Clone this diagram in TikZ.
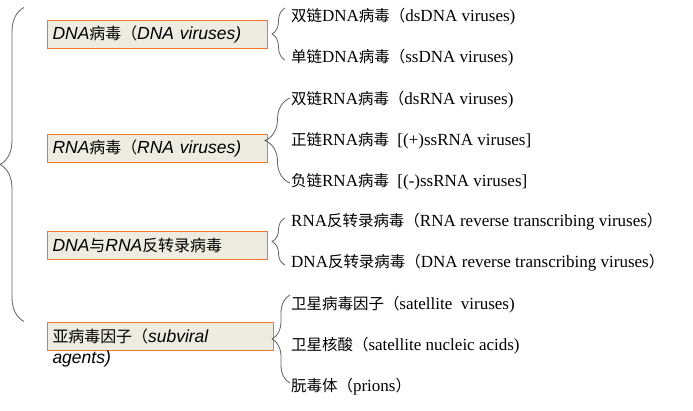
\documentclass[tikz,border=0pt]{standalone}
\usepackage{fontspec}
\setmainfont{Liberation Serif}
\setsansfont{Liberation Sans}
\newfontfamily\cjk{Noto Sans CJK SC}[Scale=0.91]
\newcommand{\zh}[1]{{\cjk\upshape #1}}
\usetikzlibrary{positioning,decorations.pathreplacing}
\definecolor{boxline}{HTML}{F07828}
\definecolor{boxfill}{HTML}{EEECE1}
\definecolor{braceline}{HTML}{606060}

\begin{document}
\begin{tikzpicture}[x=1pt, y=-1pt, node distance = 41pt]
	\tikzset{BoxStyle/.style = {
			shape=rectangle,
			draw=boxline, fill=boxfill, line width=1pt,
			minimum height=28pt, inner xsep=5pt, inner ysep=0pt,
			text width=210pt, align=left, anchor=west,
			font=\fontsize{17.5}{20}\selectfont\sffamily\itshape
	}}
	\tikzset{LeafStyle/.style = {
			inner sep=0pt, anchor=west,
			font=\fontsize{17}{19}\selectfont
	}}
	\tikzset{BraceStyle/.style = {
			draw=braceline, line width=0.8pt,
			decorate, decoration={brace, amplitude=#1}
	}}
	\useasboundingbox (0,0) rectangle (693,410);

	% groups
	\node[BoxStyle] (1) at (47,34) {DNA\zh{病毒（}DNA viruses)};
	\node[BoxStyle] (2) at (47,148) {RNA\zh{病毒（}RNA viruses)};
	\node[BoxStyle] (3) at (47,245) {DNA\zh{与}RNA\zh{反转录病毒}};
	\node[BoxStyle, text width=216pt] (4) at (47,336) {\zh{亚病毒因子（}subviral};
	\node[BoxStyle, draw=none, fill=none, anchor=north west, minimum height=0pt] (4b) at (4.south west) {agents)};

	% members
	\node[LeafStyle] (11) at (291,17) {\zh{双链}DNA\zh{病毒（}dsDNA viruses)};
	\node[LeafStyle, below=of 11.west, anchor=west] (12) {\zh{单链}DNA\zh{病毒（}ssDNA viruses)};

	\node[LeafStyle] (21) at (291,100) {\zh{双链}RNA\zh{病毒（}dsRNA viruses)};
	\node[LeafStyle, below=of 21.west, anchor=west] (22) {\zh{正链}RNA\zh{病毒}~~[(+)ssRNA viruses]};
	\node[LeafStyle, below=of 22.west, anchor=west] (23) {\zh{负链}RNA\zh{病毒}~~[(-)ssRNA viruses]};

	\node[LeafStyle] (31) at (291,222) {RNA\zh{反转录病毒（}RNA reverse transcribing viruses\zh{）}};
	\node[LeafStyle, below=of 31.west, anchor=west] (32) {DNA\zh{反转录病毒（}DNA reverse transcribing viruses\zh{）}};

	\node[LeafStyle] (41) at (291,305) {\zh{卫星病毒因子（}satellite~ viruses)};
	\node[LeafStyle, below=of 41.west, anchor=west] (42) {\zh{卫星核酸（}satellite nucleic acids)};
	\node[LeafStyle, below=of 42.west, anchor=west] (43) {\zh{朊毒体（}prions\zh{）}};

	% braces
	\draw[BraceStyle=24pt] ([xshift=-23pt]4.north west) -- ([xshift=-23pt,yshift=12pt]1.north west);
	\draw[BraceStyle=13pt] ([xshift=-6pt,yshift=-2pt]12.west) -- ([xshift=-6pt,yshift=9pt]11.west);
	\draw[BraceStyle=25pt] ([xshift=-1pt,yshift=-1pt]23.west) -- ([xshift=-1pt,yshift=2pt]21.west);
	\draw[BraceStyle=13pt] ([xshift=-6pt,yshift=-2pt]32.west) -- ([xshift=-6pt,yshift=4pt]31.west);
	\draw[BraceStyle=18pt] ([xshift=-1pt,yshift=4pt]43.west) -- ([xshift=-1pt,yshift=10pt]41.west);
\end{tikzpicture}
\end{document}
